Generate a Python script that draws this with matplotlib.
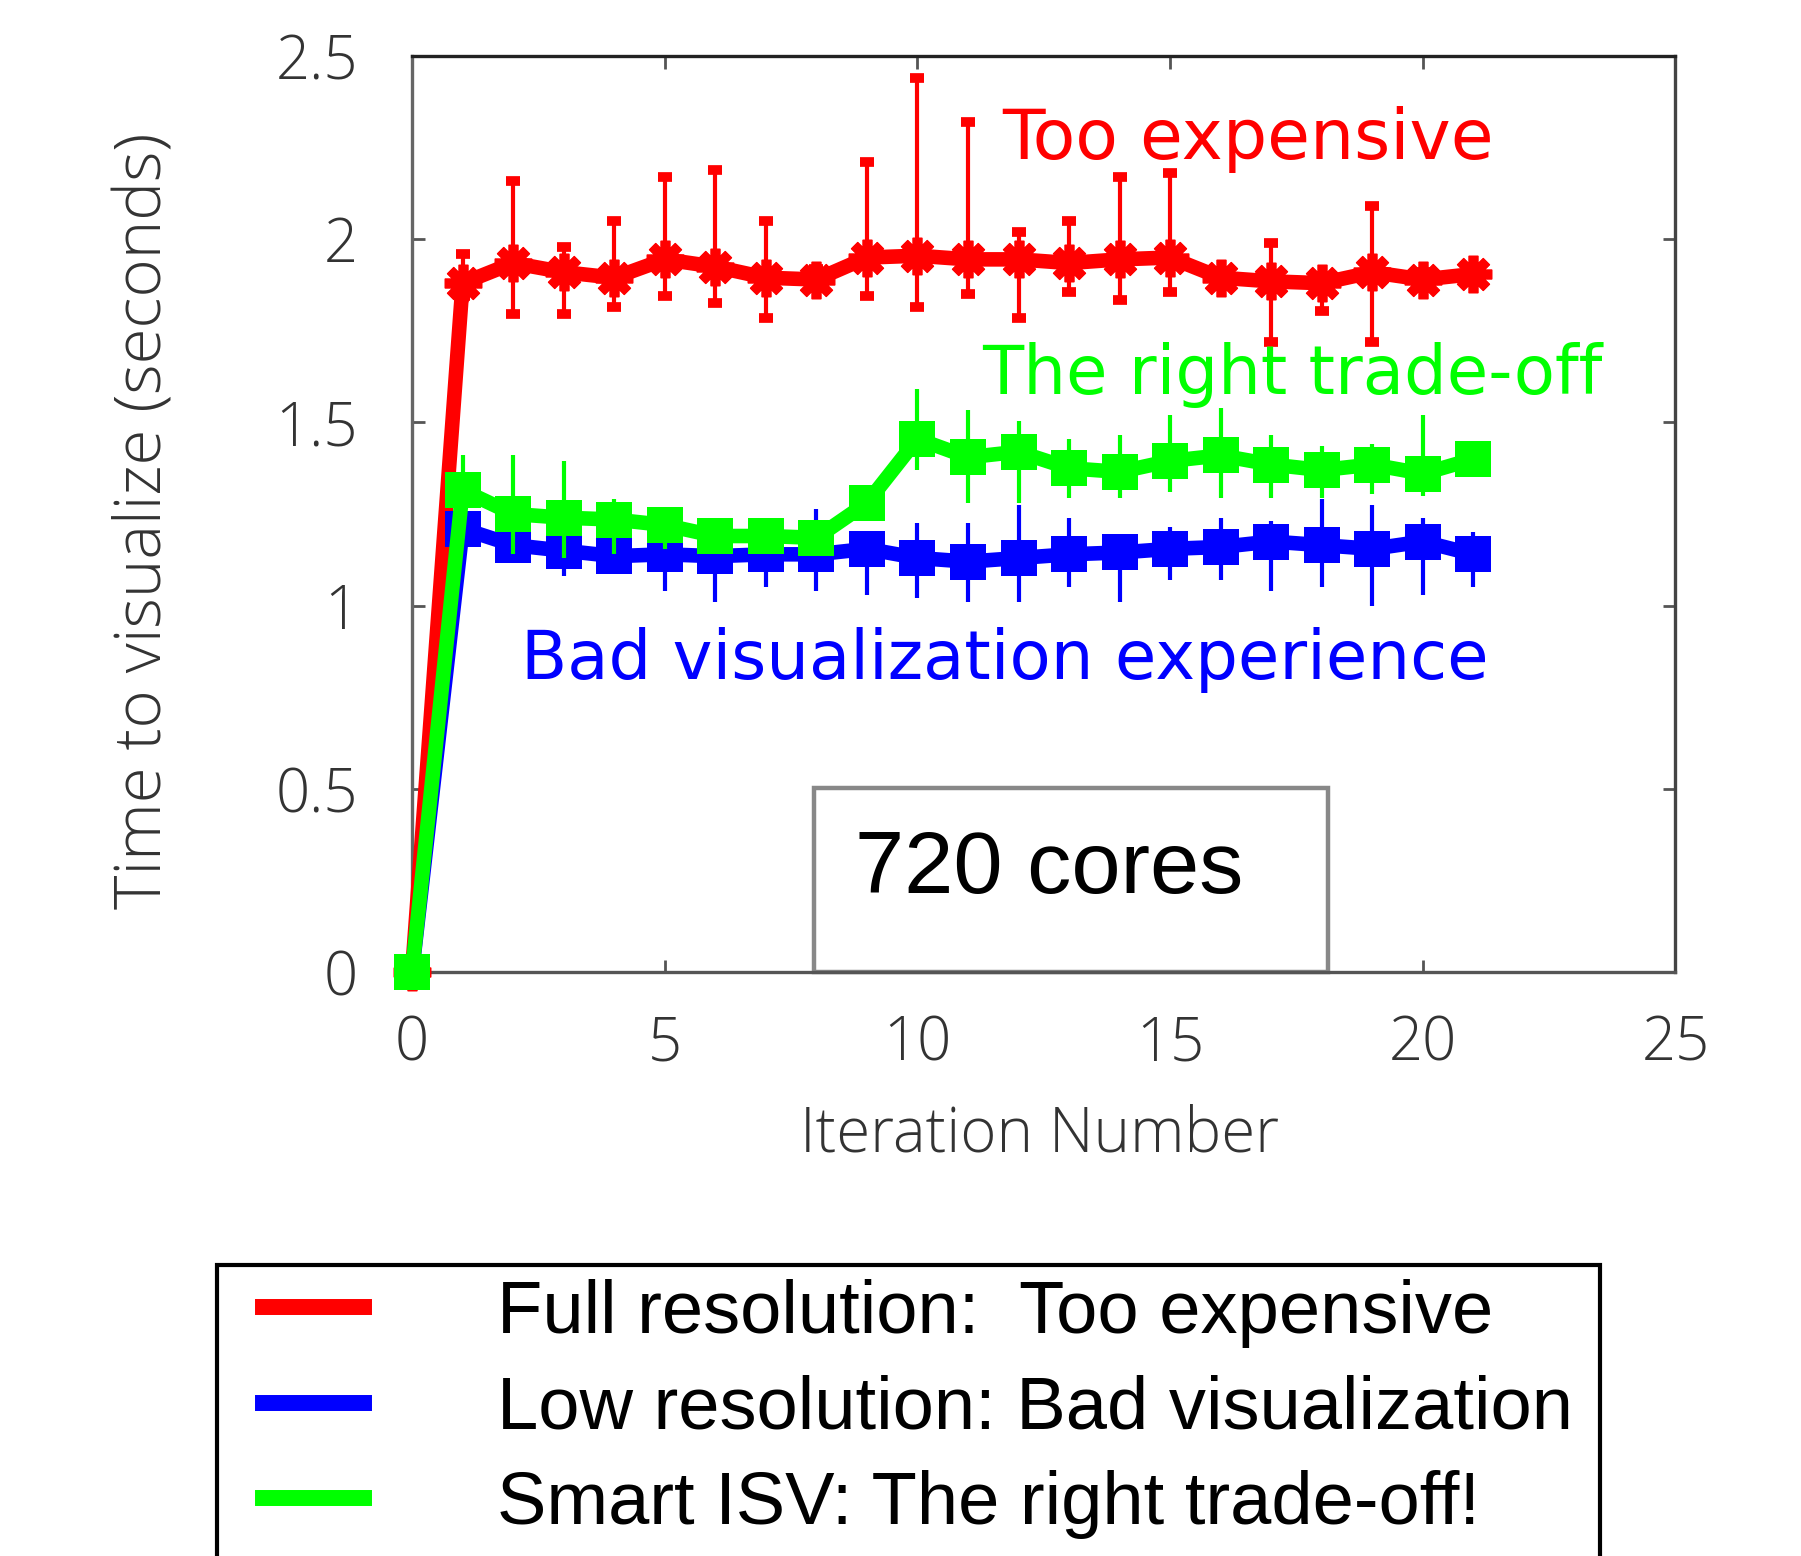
import matplotlib
matplotlib.use("Agg")
import matplotlib.pyplot as plt
from matplotlib.patches import Rectangle
from matplotlib.lines import Line2D

# ---------------- data ----------------
iterations = list(range(22))

full_mean = [0.0, 1.88, 1.935, 1.91, 1.895, 1.945, 1.925, 1.895, 1.89, 1.95, 1.955,
             1.945, 1.945, 1.935, 1.945, 1.95, 1.895, 1.885, 1.88, 1.91, 1.89, 1.905]
full_hi = [0.0, 1.96, 2.16, 1.98, 2.05, 2.17, 2.19, 2.05, 1.92, 2.21, 2.44,
           2.32, 2.02, 2.05, 2.17, 2.18, 1.91, 1.99, 1.90, 2.09, 1.91, 1.92]
full_lo = [0.0, 1.845, 1.795, 1.795, 1.815, 1.845, 1.825, 1.785, 1.87, 1.845, 1.815,
           1.85, 1.785, 1.855, 1.835, 1.855, 1.88, 1.72, 1.805, 1.72, 1.87, 1.89]

low_mean = [0.0, 1.21, 1.165, 1.15, 1.135, 1.14, 1.135, 1.14, 1.14, 1.155, 1.13,
            1.12, 1.13, 1.14, 1.145, 1.155, 1.16, 1.175, 1.165, 1.155, 1.175, 1.14]
low_hi = [0.0, 1.24, 1.19, 1.18, 1.17, 1.17, 1.17, 1.17, 1.265, 1.18, 1.225,
          1.225, 1.275, 1.24, 1.17, 1.215, 1.24, 1.23, 1.29, 1.275, 1.24, 1.20]
low_lo = [0.0, 1.18, 1.14, 1.08, 1.10, 1.04, 1.01, 1.05, 1.04, 1.03, 1.02,
          1.01, 1.01, 1.05, 1.01, 1.07, 1.07, 1.04, 1.05, 1.00, 1.03, 1.05]

smart_mean = [0.0, 1.315, 1.25, 1.24, 1.235, 1.22, 1.19, 1.19, 1.185, 1.28, 1.455,
              1.405, 1.42, 1.375, 1.365, 1.395, 1.41, 1.385, 1.37, 1.385, 1.36, 1.40]
smart_hi = [0.0, 1.41, 1.41, 1.395, 1.29, 1.25, 1.21, 1.21, 1.205, 1.30, 1.59,
            1.535, 1.505, 1.455, 1.465, 1.52, 1.54, 1.465, 1.435, 1.44, 1.52, 1.42]
smart_lo = [0.0, 1.22, 1.14, 1.13, 1.14, 1.155, 1.17, 1.17, 1.165, 1.26, 1.37,
            1.28, 1.28, 1.295, 1.295, 1.31, 1.295, 1.295, 1.295, 1.305, 1.30, 1.38]

legend_labels = ["Full resolution:  Too expensive",
                 "Low resolution: Bad visualization",
                 "Smart ISV: The right trade-off!"]
x_ticks = [0, 5, 10, 15, 20, 25]
y_ticks = [0, 0.5, 1, 1.5, 2, 2.5]
y_tick_labels = ["0", "0.5", "1", "1.5", "2", "2.5"]

RED, BLUE, GREEN = "#ff0000", "#0000ff", "#00ff00"

# ---------------- figure ----------------
fig = plt.figure(figsize=(18.01, 15.56), dpi=100)
fig.patch.set_facecolor("white")
ax = fig.add_axes([0.2288, 0.3753, 0.7015, 0.5887])
ax.set_xlim(0, 25)
ax.set_ylim(0, 2.5)

tick_font = dict(family=["Open Sans", "DejaVu Sans"], weight="light")


def draw_series(mean, lo, hi, color, marker, ms, mew, z):
    yerr = [[m - l for m, l in zip(mean, lo)], [h - m for m, h in zip(mean, hi)]]
    cont = ax.errorbar(iterations, mean, yerr=yerr, color=color, ecolor=color,
                       lw=10.5, marker=marker, ms=ms, mew=mew, mec=color, mfc=color,
                       elinewidth=3, capsize=5, capthick=3, zorder=z,
                       solid_joinstyle="round")
    line, caps, bars = cont.lines
    line.set_clip_on(False)
    for a in list(caps) + list(bars):
        a.set_clip_on(False)
    return cont


draw_series(full_mean, full_lo, full_hi, RED, (8, 2, 0), 27, 7, 3)
draw_series(low_mean, low_lo, low_hi, BLUE, "s", 26, 0, 4)
draw_series(smart_mean, smart_lo, smart_hi, GREEN, "s", 26, 0, 5)

# spines / ticks
for side, col in [("left", "#666666"), ("bottom", "#555555"),
                  ("top", "#222222"), ("right", "#444444")]:
    ax.spines[side].set_color(col)
    ax.spines[side].set_linewidth(2.4)

ax.set_xticks(x_ticks)
ax.set_xticklabels([str(t) for t in x_ticks])
ax.set_yticks(y_ticks)
ax.set_yticklabels(y_tick_labels)
ax.tick_params(axis="both", direction="in", length=9, width=2, color="#555555",
               top=True, right=True, labelsize=43, labelcolor="#333333")
ax.tick_params(axis="x", pad=30)
ax.tick_params(axis="y", pad=39)
for lab in ax.get_xticklabels() + ax.get_yticklabels():
    lab.set_fontfamily(tick_font["family"])
    lab.set_fontweight(tick_font["weight"])

ylab = ax.set_ylabel("Time to visualize (seconds)", fontsize=40, color="#333333",
                     family=["Open Sans", "DejaVu Sans"], weight="light")
ax.yaxis.set_label_coords(-0.186, 0.493)
xlab = ax.set_xlabel("Iteration Number", fontsize=40, color="#333333",
                     family=["Open Sans", "DejaVu Sans"], weight="light")
ax.xaxis.set_label_coords(0.497, -0.178)
xlab.set_verticalalignment("center")

# annotations
t1 = ax.text(11.68, 2.218, "Too expensive", color=RED, fontsize=52,
             ha="left", va="baseline", family=["DejaVu Sans"])
t2 = ax.text(11.29, 1.577, "The right trade-off", color=GREEN, fontsize=52,
             ha="left", va="baseline", family=["DejaVu Sans"])
t3 = ax.text(2.16, 0.80, "Bad visualization experience", color=BLUE, fontsize=52,
             ha="left", va="baseline", family=["DejaVu Sans"])

# 720 cores box
ax.add_patch(Rectangle((7.96, 0.0), 18.12 - 7.96, 0.502, fill=True, fc="white",
                       ec="#888888", lw=3.2, zorder=2, clip_on=False))
t4 = ax.text(12.6, 0.276, "720 cores", color="black", fontsize=63, ha="center",
             va="center", family=["Liberation Sans", "DejaVu Sans"], zorder=3)

# legend
handles = [Line2D([], [], color=c, lw=11.5) for c in (RED, BLUE, GREEN)]
leg = fig.legend(handles, legend_labels, loc="upper left",
                 bbox_to_anchor=(0.1458, 0.178), frameon=False,
                 prop=dict(family=["Liberation Sans", "DejaVu Sans"], size=53),
                 handlelength=1.38, handletextpad=1.80, labelspacing=0.36,
                 borderpad=0, borderaxespad=0)
fig.add_artist(Rectangle((0.1205, -0.05), 0.8884 - 0.1205, 0.187 + 0.05,
                         transform=fig.transFigure, fill=False, ec="black", lw=3))

# ---- fit text sizes to measured widths ----
renderer = fig.canvas.get_renderer()


def fit(t, target, use_height=False):
    bb = t.get_window_extent(renderer)
    cur = bb.height if use_height else bb.width
    t.set_fontsize(t.get_fontsize() * target / cur)


fit(t1, 492)
fit(t2, 620)
fit(t3, 968)
fit(t4, 388)
fit(ylab, 776, use_height=True)
fit(xlab, 478)
leg_texts = leg.get_texts()
bb = leg_texts[1].get_window_extent(renderer)
scale = 1076 / bb.width
for t in leg_texts:
    t.set_fontsize(t.get_fontsize() * scale)

fig.savefig("out.png", dpi=100, facecolor="white")
